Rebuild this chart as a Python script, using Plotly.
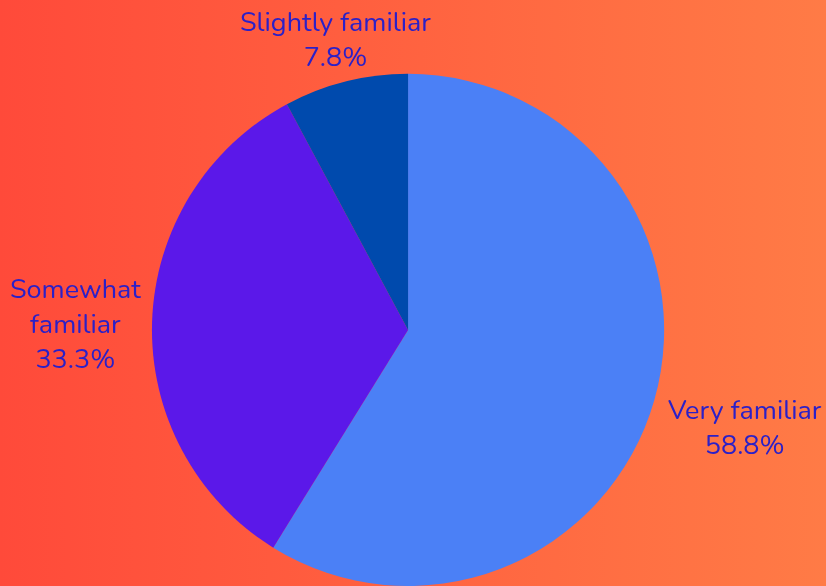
import base64

import plotly.graph_objects as go

categories = ["Very familiar", "Somewhat familiar", "Slightly familiar"]
label_lines = ["Very familiar", "Somewhat<br>familiar", "Slightly familiar"]
responses = [30, 17, 4]
slice_colors = ["#4b80f6", "#5b18e9", "#004aad"]

# where each slice's outside label sits (paper fraction, centre of text block)
label_x = [0.902, 0.091, 0.406]
label_y = [0.269, 0.447, 0.932]

# left-to-right warm gradient behind everything, as an svg data uri
_svg = (
    '<svg xmlns="http://www.w3.org/2000/svg" width="826" height="586" preserveAspectRatio="none">'
    '<defs><linearGradient id="g" x1="0" y1="0" x2="1" y2="0">'
    '<stop offset="0" stop-color="#ff4a3a"/><stop offset="1" stop-color="#ff7b46"/>'
    "</linearGradient></defs>"
    '<rect width="826" height="586" fill="url(#g)"/></svg>'
)
background = "data:image/svg+xml;base64," + base64.b64encode(_svg.encode()).decode()

total = sum(responses)

fig = go.Figure(
    go.Pie(
        labels=categories,
        values=responses,
        textinfo="none",
        marker={"colors": slice_colors, "line": {"width": 0}},
        sort=False,
        direction="clockwise",
        rotation=0,
        showlegend=False,
        domain={"x": [0.183, 0.805], "y": [0.0, 0.874]},
    )
)

# outside labels are centred over each slice, which plotly's own pie text
# does not do, so they go in as annotations
annotations = [
    {
        "text": f"{text}<br>{100 * value / total:.1f}%",
        "x": x,
        "y": y,
        "xref": "paper",
        "yref": "paper",
        "xanchor": "center",
        "yanchor": "middle",
        "showarrow": False,
        "align": "center",
    }
    for text, value, x, y in zip(label_lines, responses, label_x, label_y)
]

fig.update_layout(
    width=826,
    height=586,
    margin={"l": 0, "r": 0, "t": 0, "b": 0},
    paper_bgcolor="rgba(0,0,0,0)",
    plot_bgcolor="rgba(0,0,0,0)",
    font={"family": "Nunito, 'Noto Sans', sans-serif", "size": 27, "color": "#2b20c8"},
    annotations=annotations,
    images=[
        {
            "source": background,
            "xref": "paper",
            "yref": "paper",
            "x": 0,
            "y": 1,
            "sizex": 1,
            "sizey": 1,
            "sizing": "stretch",
            "layer": "below",
        }
    ],
)

# pin the chart to the window's top-left corner so no page margin shows
pin = """
var gd = document.getElementById('{plot_id}');
document.documentElement.style.margin = '0';
document.body.style.margin = '0';
document.body.style.overflow = 'hidden';
gd.style.position = 'fixed';
gd.style.left = '0px';
gd.style.top = '0px';
"""
fig.write_html("out.html", post_script=pin, config={"displayModeBar": False})
